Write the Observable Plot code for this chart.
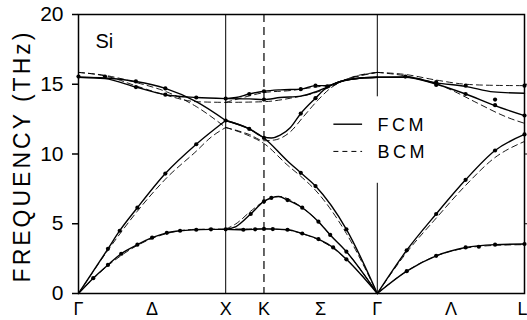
<!DOCTYPE html>
<html>
<head>
<meta charset="utf-8">
<script src="https://cdn.jsdelivr.net/npm/d3@7"></script>
<script src="https://cdn.jsdelivr.net/npm/@observablehq/plot@0.6"></script>
<style>
  html, body { margin: 0; padding: 0; background: #fff; overflow: hidden; }
  #chart svg { display: block; }
</style>
</head>
<body>
<div id="chart"></div>
<script>
// Path coordinate along Γ–X–K–Γ–L (Γ = 0, X = 1, K = 1.26, Γ = 2.03, L = 3.03)
const symPoints = [0, 1, 1.26, 2.03, 3.03];
const bottomLabelPos = [0, 0.5, 1, 1.26, 1.645, 2.03, 2.53, 3.03];
const bottomLabels = ["Γ", "Δ", "X", "K", "Σ", "Γ", "Λ", "L"];
const yTicks = [0, 5, 10, 15, 20];
const yRightTicks = [5, 10, 15];

// FCM (force-constant model), frequency in THz
const fcmDeltaTA = [[0,0],[0.10,1.1],[0.20,2.05],[0.29,2.85],[0.40,3.5],[0.50,4.0],[0.60,4.35],[0.69,4.5],[0.80,4.57],[0.90,4.6],[1,4.6]];
const fcmDeltaLA = [[0,0],[0.20,3.2],[0.28,4.5],[0.40,6.15],[0.59,8.6],[0.80,10.7],[1,12.4]];
const fcmDeltaTO = [[0,15.5],[0.18,15.4],[0.39,14.8],[0.59,14.25],[0.80,14.05],[1,13.97]];
const fcmDeltaLO = [[0,15.5],[0.18,15.45],[0.39,15.2],[0.59,14.7],[0.80,13.75],[1,12.4]];

const fcmSigmaTA1 = [[1,4.6],[1.12,4.57],[1.26,4.63],[1.42,4.57],[1.52,4.3],[1.63,3.9],[1.73,3.3],[1.82,2.45],[2.03,0]];
const fcmSigmaTA2 = [[1,4.6],[1.07,4.8],[1.17,5.7],[1.26,6.6],[1.31,6.85],[1.36,6.95],[1.42,6.7],[1.52,6.15],[1.63,5.15],[1.71,4.2],[1.82,3.0],[2.03,0]];
const fcmSigmaLA = [[1,12.4],[1.16,11.8],[1.26,11.15],[1.42,9.5],[1.51,8.65],[1.61,7.7],[1.82,4.6],[2.03,0]];
const fcmSigmaLO = [[1,12.4],[1.16,11.8],[1.26,11.2],[1.31,11.15],[1.37,11.35],[1.44,11.9],[1.51,12.9],[1.61,14.0],[1.69,14.8],[1.78,15.2],[1.92,15.45],[2.03,15.5]];
const fcmSigmaTO1 = [[1,13.97],[1.16,13.95],[1.26,13.9],[1.37,14.05],[1.51,14.15],[1.61,14.45],[1.69,14.8],[1.78,15.2],[1.92,15.45],[2.03,15.5]];
const fcmSigmaTO2 = [[1,13.97],[1.07,14.05],[1.16,14.3],[1.26,14.5],[1.37,14.6],[1.51,14.65],[1.61,14.9],[1.69,14.9],[1.78,15.2],[1.92,15.45],[2.03,15.5]];

const fcmLambdaTA = [[2.03,0],[2.23,1.6],[2.43,2.7],[2.63,3.3],[2.83,3.5],[3.03,3.55]];
const fcmLambdaLA = [[2.03,0],[2.23,3.1],[2.43,5.7],[2.63,8.15],[2.83,10.25],[3.03,11.4]];
const fcmLambdaLO = [[2.03,15.5],[2.22,15.5],[2.43,15.0],[2.63,14.3],[2.82,13.5],[3.03,12.75]];
const fcmLambdaTO = [[2.03,15.5],[2.22,15.52],[2.43,15.1],[2.63,14.85],[2.82,14.45],[3.03,14.35]];

// BCM (bond-charge model)
const bcmDeltaTA = [[0,0],[0.20,2.0],[0.40,3.45],[0.60,4.3],[0.80,4.6],[1,4.62]];
const bcmDeltaLA = [[0,0],[0.20,3.1],[0.40,5.9],[0.60,8.3],[0.80,10.2],[0.90,11.2],[1,11.9]];
const bcmDeltaTO = [[0,15.85],[0.20,15.55],[0.40,14.85],[0.60,14.2],[0.80,13.75],[1,13.7]];
const bcmDeltaLO = [[0,15.85],[0.20,15.6],[0.40,15.1],[0.60,14.45],[0.80,13.4],[1,11.9]];

const bcmSigmaTA1 = [[1,4.62],[1.26,4.63],[1.42,4.55],[1.52,4.28],[1.63,3.85],[1.73,3.25],[1.82,2.45],[2.03,0]];
const bcmSigmaTA2 = [[1,4.62],[1.07,5.0],[1.17,5.9],[1.26,6.6],[1.36,6.95],[1.52,6.15],[1.63,5.15],[1.71,4.2],[1.82,3.0],[2.03,0]];
const bcmSigmaLA = [[1,11.9],[1.16,11.3],[1.26,10.75],[1.42,9.2],[1.51,8.4],[1.61,7.4],[1.82,4.3],[2.03,0]];
const bcmSigmaLO = [[1,11.9],[1.16,11.4],[1.26,10.95],[1.33,11.0],[1.44,11.6],[1.53,12.7],[1.63,13.9],[1.71,14.7],[1.82,15.35],[2.03,15.85]];
const bcmSigmaTO1 = [[1,13.7],[1.26,13.75],[1.44,14.0],[1.61,14.4],[1.71,14.8],[1.82,15.35],[2.03,15.85]];
const bcmSigmaTO2 = [[1,13.7],[1.12,14.05],[1.26,14.4],[1.44,14.55],[1.61,14.8],[1.71,14.95],[1.82,15.35],[2.03,15.85]];

const bcmLambdaTA = [[2.03,0],[2.23,1.6],[2.43,2.7],[2.63,3.25],[2.83,3.45],[3.03,3.5]];
const bcmLambdaLA = [[2.03,0],[2.23,2.95],[2.43,5.4],[2.63,7.75],[2.83,9.75],[3.03,10.9]];
const bcmLambdaLO = [[2.03,15.85],[2.22,15.6],[2.43,15.05],[2.56,14.45],[2.71,13.65],[2.92,12.6],[3.03,12.2]];
const bcmLambdaTO = [[2.03,15.85],[2.22,15.7],[2.43,15.3],[2.63,15.0],[2.83,14.92],[3.03,14.9]];

// Neutron-scattering measurements
const measuredDelta = [
  [0,15.55],[0.18,15.55],[0.39,15.2],[0.39,14.8],[0.59,14.7],[0.59,14.25],[0.80,14.05],[1,13.97],
  [0.20,3.2],[0.28,4.5],[0.40,6.15],[0.59,8.6],[0.80,10.7],[1,12.4],
  [0.10,1.1],[0.20,2.05],[0.29,2.85],[0.40,3.5],[0.50,4.0],[0.60,4.35],[0.69,4.5],[0.80,4.57],[0.90,4.6],[1,4.6]
];
const measuredSigma = [
  [1.12,4.57],[1.20,4.6],[1.26,4.63],[1.32,4.62],[1.42,4.57],[1.52,4.3],[1.63,3.9],[1.73,3.3],[1.82,2.45],
  [1.17,5.7],[1.26,6.6],[1.31,6.85],[1.42,6.7],[1.52,6.15],[1.63,5.15],[1.71,4.2],[1.82,3.0],
  [1.16,11.8],[1.26,11.15],[1.51,8.65],[1.61,7.7],[1.82,4.6],
  [1.51,12.9],[1.61,14.0],
  [1.16,14.3],[1.26,14.5],[1.26,13.9],[1.51,14.65],[1.61,14.9],[1.69,14.85]
];
const measuredLambda = [
  [2.22,15.55],[2.43,15.15],[2.43,14.95],[2.63,14.9],[2.63,14.3],[2.83,13.9],[2.83,13.5],[3.03,14.9],[3.03,12.76],
  [2.23,3.1],[2.43,5.7],[2.63,8.15],[2.83,10.25],[3.03,11.4],
  [2.23,1.6],[2.43,2.7],[2.63,3.3],[2.72,3.35],[2.83,3.5],[3.03,3.55]
];

const fcmBands = [fcmDeltaTA, fcmDeltaLA, fcmDeltaTO, fcmDeltaLO,
  fcmSigmaTA1, fcmSigmaTA2, fcmSigmaLA, fcmSigmaLO, fcmSigmaTO1, fcmSigmaTO2,
  fcmLambdaTA, fcmLambdaLA, fcmLambdaLO, fcmLambdaTO];
const bcmBands = [bcmDeltaTA, bcmDeltaLA, bcmDeltaTO, bcmDeltaLO,
  bcmSigmaTA1, bcmSigmaTA2, bcmSigmaLA, bcmSigmaLO, bcmSigmaTO1, bcmSigmaTO2,
  bcmLambdaTA, bcmLambdaLA, bcmLambdaLO, bcmLambdaTO];
const measured = [...measuredDelta, ...measuredSigma, ...measuredLambda];

const legendItems = [
  {label: "FCM", dash: null},
  {label: "BCM", dash: "5,4"}
];

const labelAt = new Map(bottomLabelPos.map((p, i) => [p, bottomLabels[i]]));
const font = "'Liberation Sans', Arial, Helvetica, sans-serif";

const px = d => d[0];
const py = d => d[1];

const plot = Plot.plot({
  width: 527,
  height: 320,
  marginLeft: 78,
  marginRight: 3,
  marginTop: 14,
  marginBottom: 27,
  x: {domain: [0, 3.03]},
  y: {domain: [0, 20]},
  style: {fontFamily: font, background: "#fff", color: "#000"},
  marks: [
    // symmetry-point verticals: X solid, K dashed, Γ solid (broken around the key)
    Plot.ruleX([symPoints[1]], {stroke: "#000", strokeWidth: 1}),
    Plot.ruleX([symPoints[2]], {stroke: "#000", strokeWidth: 1.2, strokeDasharray: "8,5"}),
    Plot.ruleX([{y1: 14.1, y2: 20}, {y1: 0, y2: 7.9}], {x: () => symPoints[3], y1: "y1", y2: "y2", stroke: "#000", strokeWidth: 1}),
    ...bcmBands.map(b => Plot.line(b, {x: px, y: py, curve: "monotone-x", stroke: "#000", strokeWidth: 0.9, strokeDasharray: "6,4"})),
    ...fcmBands.map(b => Plot.line(b, {x: px, y: py, curve: "monotone-x", stroke: "#000", strokeWidth: 1.4})),
    Plot.dot(measured, {x: px, y: py, r: 2.1, fill: "#000", stroke: "none"}),
    Plot.frame({stroke: "#000", strokeWidth: 1.5}),
    Plot.axisY({ticks: yTicks, tickSize: 6, tickPadding: 9, fontSize: 21, label: null, strokeWidth: 1.5}),
    Plot.axisY({anchor: "right", ticks: yRightTicks, tickSize: 4, tickFormat: () => "", label: null}),
    Plot.axisX({ticks: bottomLabelPos, tickFormat: d => labelAt.get(d), tickSize: 0, tickPadding: 9, fontSize: 18, label: null}),
    Plot.text(["Si"], {frameAnchor: "top-left", dx: 17, dy: 19, fontSize: 20, textAnchor: "start"}),
    Plot.text(["FREQUENCY (THz)"], {frameAnchor: "left", dx: -56, dy: 2, rotate: -90, fontSize: 23, textAnchor: "middle"})
  ]
});

// Key for the two model curves
const sx = plot.scale("x"), sy = plot.scale("y");
const svg = d3.select(plot);
const keyX0 = sx.apply(1.735), keyX1 = sx.apply(1.93), keyText = sx.apply(2.034);
const keyY = [12.1, 10.15].map(v => sy.apply(v));
const key = svg.append("g")
  .attr("font-family", font)
  .attr("font-size", 18)
  .attr("text-anchor", "start");
legendItems.forEach((item, i) => {
  key.append("line")
    .attr("x1", keyX0).attr("x2", keyX1)
    .attr("y1", keyY[i]).attr("y2", keyY[i])
    .attr("stroke", "#000")
    .attr("stroke-width", item.dash ? 1 : 1.4)
    .attr("stroke-dasharray", item.dash);
  key.append("text")
    .attr("x", keyText).attr("y", keyY[i]).attr("dy", "0.36em")
    .attr("fill", "#000")
    .style("letter-spacing", "3.5px")
    .text(item.label);
});

svg.selectAll("text").filter(function () { return this.textContent === "FREQUENCY (THz)"; })
  .style("letter-spacing", "3px");

// the end label L sits against the right border
svg.selectAll("text").filter(function () { return this.textContent === "L"; })
  .attr("text-anchor", "end")
  .attr("dx", 3);

document.getElementById("chart").appendChild(plot);
</script>
</body>
</html>
